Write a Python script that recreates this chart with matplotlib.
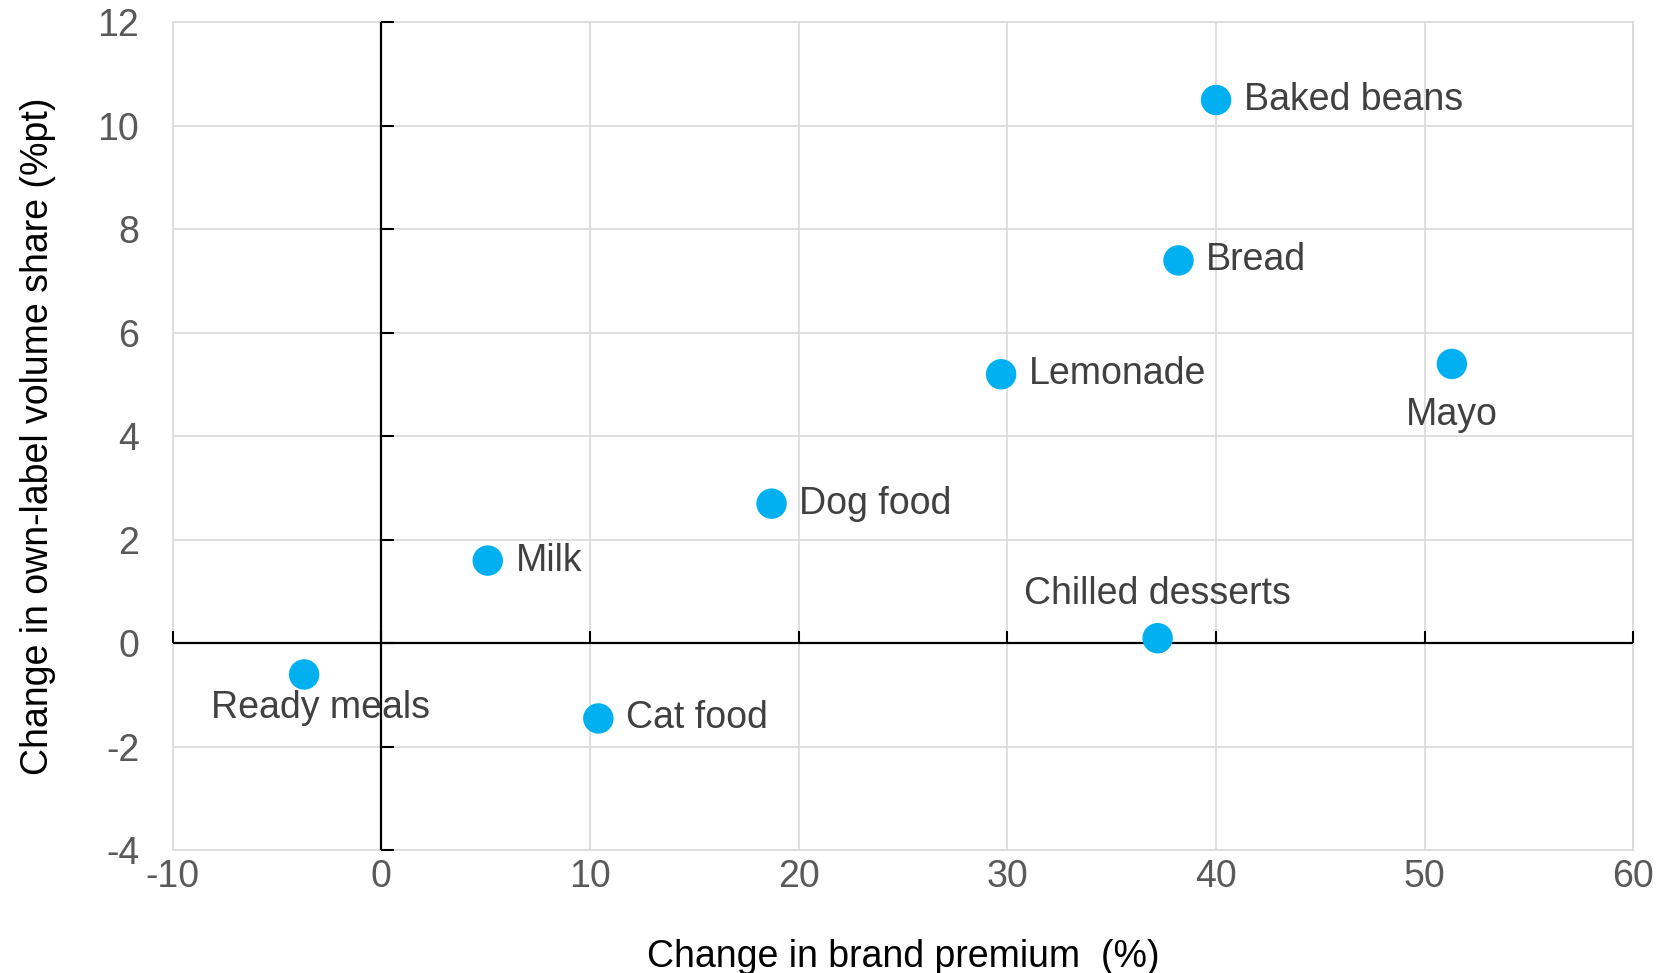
import matplotlib.pyplot as plt

plt.rcParams['font.family'] = ['Liberation Sans', 'DejaVu Sans']
plt.rcParams['axes.unicode_minus'] = False

# data
categories = ['Ready meals', 'Milk', 'Cat food', 'Dog food', 'Lemonade',
              'Chilled desserts', 'Bread', 'Baked beans', 'Mayo']
brand_premium = [-3.7, 5.1, 10.4, 18.7, 29.7, 37.2, 38.2, 40.0, 51.3]
own_label_share = [-0.6, 1.6, -1.45, 2.7, 5.2, 0.1, 7.4, 10.5, 5.4]

x_ticks = [-10, 0, 10, 20, 30, 40, 50, 60]
y_ticks = [-4, -2, 0, 2, 4, 6, 8, 10, 12]

# label placement (offset in points, alignment)
label_pos = {
    'Ready meals': ((12, -24), 'center', 'center'),
    'Milk': ((20, 0), 'left', 'center'),
    'Cat food': ((20, 0), 'left', 'center'),
    'Dog food': ((20, 0), 'left', 'center'),
    'Lemonade': ((20, 0), 'left', 'center'),
    'Chilled desserts': ((0, 32), 'center', 'center'),
    'Bread': ((20, 0), 'left', 'center'),
    'Baked beans': ((20, 0), 'left', 'center'),
    'Mayo': ((0, -37), 'center', 'center'),
}

grid_col = '#D9D9D9'
dot_col = '#00B0F0'
fs = 27

fig = plt.figure(figsize=(16.6, 9.73), dpi=100)
ax = fig.add_axes([0.104, 0.126, 0.880, 0.851])

ax.set_xlim(x_ticks[0], x_ticks[-1])
ax.set_ylim(y_ticks[0], y_ticks[-1])
ax.set_xticks(x_ticks)
ax.set_yticks(y_ticks)
ax.grid(True, color=grid_col, linewidth=1.2)
ax.set_axisbelow(True)
for s in ax.spines.values():
    s.set_color(grid_col)
    s.set_linewidth(1.2)
ax.tick_params(length=0, labelsize=fs, labelcolor='#595959')
ax.tick_params(axis='y', pad=24)
ax.tick_params(axis='x', pad=6)

# black axes crossing at zero, with inward ticks
ax.axhline(0, color='black', linewidth=1.6, zorder=3)
ax.axvline(0, color='black', linewidth=1.6, zorder=3)
xloc = (0 - x_ticks[0]) / (x_ticks[-1] - x_ticks[0])
yloc = (0 - y_ticks[0]) / (y_ticks[-1] - y_ticks[0])
sx = ax.secondary_xaxis(yloc)
sx.set_xticks(x_ticks)
sx.tick_params(direction='in', length=9, width=1.5, color='black',
               labelbottom=False, labeltop=False)
sx.spines['bottom'].set_visible(False)
sx.spines['top'].set_visible(False)
sx.set_zorder(4)
sy = ax.secondary_yaxis(xloc)
sy.set_yticks(y_ticks)
sy.tick_params(direction='in', length=9, width=1.5, color='black',
               labelleft=False, labelright=False)
sy.spines['left'].set_visible(False)
sy.spines['right'].set_visible(False)
sy.set_zorder(4)

ax.scatter(brand_premium, own_label_share, s=480, color=dot_col,
           edgecolors='none', zorder=5)

for name, x, y in zip(categories, brand_premium, own_label_share):
    off, ha, va = label_pos[name]
    ax.annotate(name, (x, y), xytext=off, textcoords='offset points',
                ha=ha, va=va, fontsize=fs, color='#404040', zorder=6)

ax.set_xlabel('Change in brand premium  (%)', fontsize=fs, color='black',
              labelpad=32)
ax.set_ylabel('Change in own-label volume share (%pt)', fontsize=fs,
              color='black', labelpad=30)

fig.savefig('out.png', dpi=100)
